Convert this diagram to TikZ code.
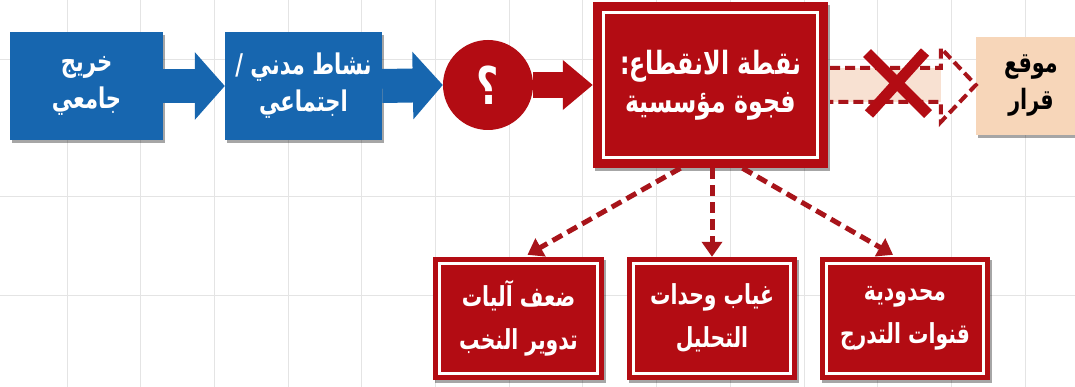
\documentclass[tikz,border=0pt]{standalone}
\usepackage{fontspec}
\newfontfamily\arabicfont[Script=Arabic,FakeStretch=0.74]{DejaVu Sans}
\TeXXeTstate=1
\usetikzlibrary{arrows.meta,calc,shadows}
\definecolor{bluec}{HTML}{1766AF}
\definecolor{redc}{HTML}{B30C13}
\definecolor{dredc}{HTML}{A8141A}
\definecolor{peachc}{HTML}{F7D6B9}
\definecolor{peachl}{HTML}{F8E1D2}
\definecolor{gridc}{HTML}{E4E4E4}
\newcommand{\ar}[1]{\beginR #1\endR}
\begin{document}
\begin{tikzpicture}[x=1pt,y=-1pt,
  shad/.style={drop shadow={shadow xshift=2pt,shadow yshift=-3pt,opacity=0.35,fill=black}},
  bluebox/.style={shad,fill=bluec,draw=none,minimum width=155pt,minimum height=108pt,inner sep=0pt,text=white,align=center,font=\arabicfont\bfseries\fontsize{28.5}{37}\selectfont},
  mainbox/.style={shad,fill=redc,draw=none,minimum width=235pt,minimum height=166pt,inner sep=0pt,text=white,align=center,font=\arabicfont\bfseries\fontsize{32}{38}\selectfont},
  subbox/.style={shad,fill=redc,draw=none,minimum width=171pt,minimum height=123pt,inner sep=0pt,text=white,align=center,font=\arabicfont\bfseries\fontsize{27.5}{43}\selectfont},
  peachbox/.style={shad,fill=peachc,draw=none,minimum width=110pt,minimum height=98pt,inner sep=0pt,text=black,align=center,font=\arabicfont\bfseries\fontsize{28}{37}\selectfont},
  qcirc/.style={circle,fill=redc,draw=none,minimum size=90pt,inner sep=0pt,text=white,font=\arabicfont\bfseries\fontsize{52}{52}\selectfont},
  fatblue/.style={bluec,line width=34pt,-{Triangle[length=30pt,width=66pt]}},
  fatred/.style={redc,line width=26pt,-{Triangle[length=30pt,width=48pt]}},
  dashconn/.style={dredc,line width=5pt,dash pattern=on 11pt off 6pt,-{Triangle[length=15pt,width=20pt]}},
  inner/.style={white,line width=3pt}
]
\useasboundingbox (0,0) rectangle (1075,387);
\fill[white] (0,0) rectangle (1075,387);
% grid
\foreach \i in {0,...,13} \draw[gridc,line width=1pt] ({67+73.7*\i},0) -- ({67+73.7*\i},387);
\foreach \yy in {60,197,295} \draw[gridc,line width=1pt] (0,\yy) -- (1075,\yy);

% nodes
\node[bluebox,minimum width=153pt] (b1) at (86.5,86) {\ar{خريج}\\\ar{جامعي}};
\node[bluebox,minimum width=157pt] (b2) at (303.5,86) {\ar{نشاط مدني /}\\\ar{اجتماعي}};
\node[qcirc] (q) at (488,85) {\ar{؟}};
\node[mainbox] (main) at (710.5,85) {\ar{نقطة الانقطاع:}\\\ar{فجوة مؤسسية}};
\draw[inner] ($(main.north west)+(11,11)$) rectangle ($(main.south east)+(-11,-11)$);
\node[peachbox] (peach) at (1031,86) {\ar{موقع}\\\ar{قرار}};

\node[subbox] (l1) at (518.5,318.5) {\ar{ضعف آليات}\\\ar{تدوير النخب}};
\node[subbox,minimum width=170pt] (l2) at (712,318.5) {\ar{غياب وحدات}\\\ar{التحليل}};
\node[subbox,minimum width=170pt] (l3) at (905,318.5) {\ar{محدودية}\\\ar{قنوات التدرج}};
\foreach \n in {l1,l2,l3}
  \draw[inner] ($(\n.north west)+(7,7)$) rectangle ($(\n.south east)+(-7,-7)$);

% connectors
\draw[fatblue] (b1.east) -- (b2.west);
\draw[fatblue] (b2.east) -- (q.west);
\draw[fatred] (q.east) -- (main.west);

\draw[dashconn] ($(main.south)+(-30,0)$) -- ($(l1.north)+(9,-2)$);
\draw[dashconn] (main.south -| l2.north) -- (l2.north);
\draw[dashconn] ($(main.south)+(32,0)$) -- ($(l3.north)+(-12,-2)$);

% blocked hollow arrow
\coordinate (hs) at ($(main.east)+(2,0)$);
\coordinate (ht) at (peach.west |- main.east);
\fill[peachl] ($(hs)+(0,-17)$) rectangle ($(ht)+(-35,17)$);
\draw[dredc,line width=4pt,dash pattern=on 10pt off 5pt,line join=miter]
  ($(hs)+(0,-17)$) -- ($(ht)+(-35,-17)$) -- ($(ht)+(-35,-37)$) -- (ht)
  -- ($(ht)+(-35,37)$) -- ($(ht)+(-35,17)$) -- ($(hs)+(0,17)$);
% cross
\draw[redc,line width=11pt] (867,53) -- (928,114);
\draw[redc,line width=11pt] (925,52) -- (869,114);
\end{tikzpicture}
\end{document}
